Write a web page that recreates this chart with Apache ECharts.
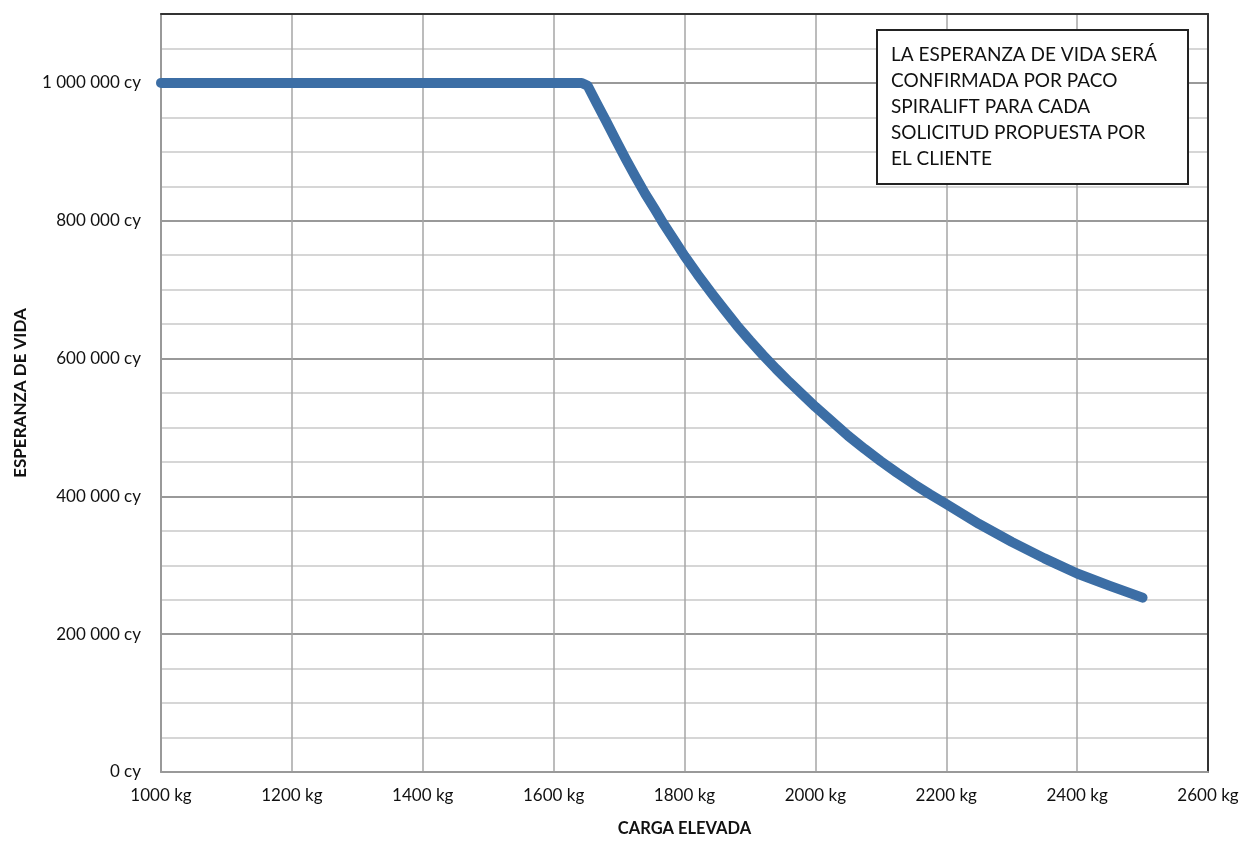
<!DOCTYPE html>
<html>
<head>
<meta charset="utf-8">
<script src="https://cdn.jsdelivr.net/npm/echarts@6/dist/echarts.min.js"></script>
<style>
html,body{margin:0;padding:0;background:#fff;}
#chart{width:1243px;height:842px;}
</style>
</head>
<body>
<div id="chart"></div>
<script>
// Data
const loadKg = [1000, 1100, 1200, 1300, 1400, 1500, 1600, 1643, 1652, 1665, 1680, 1695, 1710, 1725, 1740, 1755, 1767, 1785, 1800, 1820, 1842, 1860, 1880, 1900, 1920, 1940, 1960, 1980, 2000, 2025, 2050, 2075, 2100, 2125, 2150, 2175, 2200, 2250, 2300, 2350, 2400, 2450, 2500];
const lifeCycles = [1000000, 1000000, 1000000, 1000000, 1000000, 1000000, 1000000, 1000000, 996000, 972000, 945000, 917000, 890000, 864000, 839000, 816000, 797000, 771000, 749000, 722000, 694000, 672000, 648000, 626000, 605000, 585000, 566000, 548000, 530000, 509000, 488000, 469000, 451000, 434000, 418000, 403000, 389000, 360000, 334000, 310000, 288000, 270000, 253000];
const xName = 'CARGA ELEVADA';
const yName = 'ESPERANZA DE VIDA';
const noteLines = ['LA ESPERANZA DE VIDA SERÁ', 'CONFIRMADA POR PACO', 'SPIRALIFT PARA CADA', 'SOLICITUD PROPUESTA POR', 'EL CLIENTE'];

const seriesData = loadKg.map((x, i) => [x, lifeCycles[i]]);
const fmtThousands = v => String(Math.round(v)).replace(/\B(?=(\d{3})+(?!\d))/g, ' ');
const font = 'Lato, "Open Sans", sans-serif';

const chart = echarts.init(document.getElementById('chart'));
chart.setOption({
  animation: false,
  backgroundColor: '#fff',
  grid: { left: 161, right: 35, top: 14, bottom: 69, show: false },
  xAxis: [{
    type: 'value', min: 1000, max: 2600, interval: 200,
    name: xName, nameLocation: 'middle', nameGap: 48,
    nameTextStyle: { fontFamily: font, fontSize: 16.5, fontWeight: 'bold', color: '#111' },
    axisLine: { show: true, lineStyle: { color: '#999', width: 2 } },
    axisTick: { show: false },
    axisLabel: { formatter: v => v + ' kg', fontFamily: font, fontSize: 17, color: '#111', margin: 15 },
    splitLine: { show: true, lineStyle: { color: '#a6a6a6', width: 1.5 } }
  }, {
    type: 'value', position: 'top', min: 1000, max: 2600, interval: 200,
    axisLine: { show: true, onZero: false, lineStyle: { color: '#333', width: 2 } },
    axisTick: { show: false }, axisLabel: { show: false }, splitLine: { show: false }
  }],
  yAxis: [{
    type: 'value', min: 0, max: 1100000, interval: 200000,
    name: yName, nameLocation: 'middle', nameGap: 132, nameRotate: 90,
    nameTextStyle: { fontFamily: font, fontSize: 17, fontWeight: 'bold', color: '#111' },
    axisLine: { show: true, lineStyle: { color: '#999', width: 2 } },
    axisTick: { show: false },
    axisLabel: { formatter: v => fmtThousands(v) + ' cy', fontFamily: font, fontSize: 17, color: '#111', margin: 20, showMaxLabel: false },
    splitLine: { show: true, lineStyle: { color: '#999', width: 2 } },
    minorTick: { show: false, splitNumber: 4 },
    minorSplitLine: { show: true, lineStyle: { color: '#d6d6d6', width: 2 } }
  }, {
    type: 'value', position: 'right', min: 0, max: 1100000, interval: 200000,
    axisLine: { show: true, onZero: false, lineStyle: { color: '#333', width: 2 } },
    axisTick: { show: false }, axisLabel: { show: false }, splitLine: { show: false }
  }],
  series: [{
    type: 'line',
    data: seriesData,
    showSymbol: false,
    smooth: false,
    lineStyle: { color: '#3c6ea5', width: 10, cap: 'round', join: 'round' },
    z: 5
  }],
  graphic: [
    { type: 'rect', left: 876, top: 29, z: 100, shape: { width: 311, height: 154 }, style: { fill: '#fff', stroke: '#222', lineWidth: 2 } },
    { type: 'text', left: 891, top: 42, z: 101, style: { text: noteLines.join('\n'), fontFamily: font, fontSize: 19, lineHeight: 26, fill: '#111' } }
  ]
});
</script>
</body>
</html>
